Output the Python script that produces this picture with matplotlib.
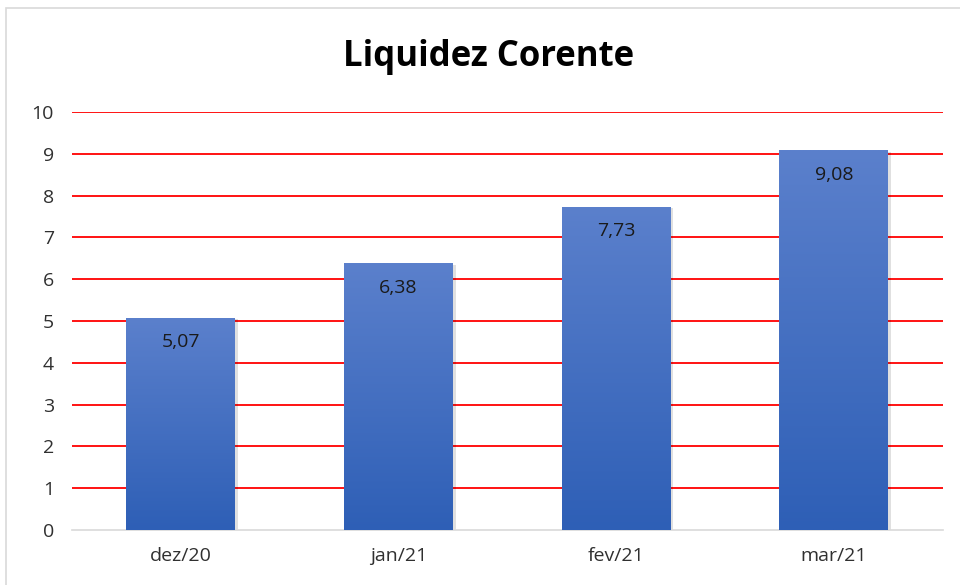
import numpy as np
import matplotlib.pyplot as plt
from matplotlib.patches import Rectangle
from matplotlib.colors import LinearSegmentedColormap

# dados
categorias = ['dez/20', 'jan/21', 'fev/21', 'mar/21']
valores = [5.07, 6.38, 7.73, 9.08]
rotulos = ['5,07', '6,38', '7,73', '9,08']

plt.rcParams['font.family'] = ['Open Sans', 'DejaVu Sans']

fig = plt.figure(figsize=(9.6, 5.85), dpi=100)
ax = fig.add_axes([0.075, 0.094, 0.907, 0.7145])

# moldura do gráfico
fig.patches.append(Rectangle((6 / 960, -0.01), 1.0, 1 - 8 / 585 + 0.01, transform=fig.transFigure,
                             fill=False, edgecolor='#d9d9d9', linewidth=1.2))

x = np.arange(len(categorias))
largura = 0.5
barras = ax.bar(x, valores, width=largura, color='none', edgecolor='none', zorder=3)

# gradiente vertical nas barras
grad = np.linspace(0, 1, 256).reshape(-1, 1)
cmap = LinearSegmentedColormap.from_list('azul', ['#2e5fb6', '#5b80cc'])
for b in barras:
    x0, y0 = b.get_x(), b.get_y()
    w, h = b.get_width(), b.get_height()
    # sombra leve
    ax.add_patch(Rectangle((x0 + 0.012, y0), w, h - 0.03, facecolor='#000000', alpha=0.12,
                           edgecolor='none', zorder=2))
    im = ax.imshow(grad, extent=[x0, x0 + w, y0, y0 + h], origin='lower', cmap=cmap,
                   aspect='auto', zorder=3)
    im.set_clip_path(b)

for xi, v, r in zip(x, valores, rotulos):
    ax.text(xi, v - 0.58, r, ha='center', va='center', fontsize=14, color='#1a1a1a', zorder=4)

ax.set_xlim(-0.5, 3.5)
ax.set_ylim(0, 10)
ax.set_yticks(range(0, 11))
ax.set_xticks(x)
ax.set_xticklabels(categorias)
ax.tick_params(axis='both', length=0, labelsize=14, colors='#303030')
ax.tick_params(axis='x', pad=12)
ax.tick_params(axis='y', pad=13)

for yv in range(1, 11):
    ax.axhline(yv, color='#ff0000', linewidth=1.3, zorder=1)

for s in ['top', 'right', 'left']:
    ax.spines[s].set_visible(False)
ax.spines['bottom'].set_color('#d9d9d9')
ax.spines['bottom'].set_linewidth(1.2)

fig.text(0.509, 0.902, 'Liquidez Corente', ha='center', va='center', fontsize=25,
         fontweight='bold', color='#000000')

fig.savefig('out.png', dpi=100)
